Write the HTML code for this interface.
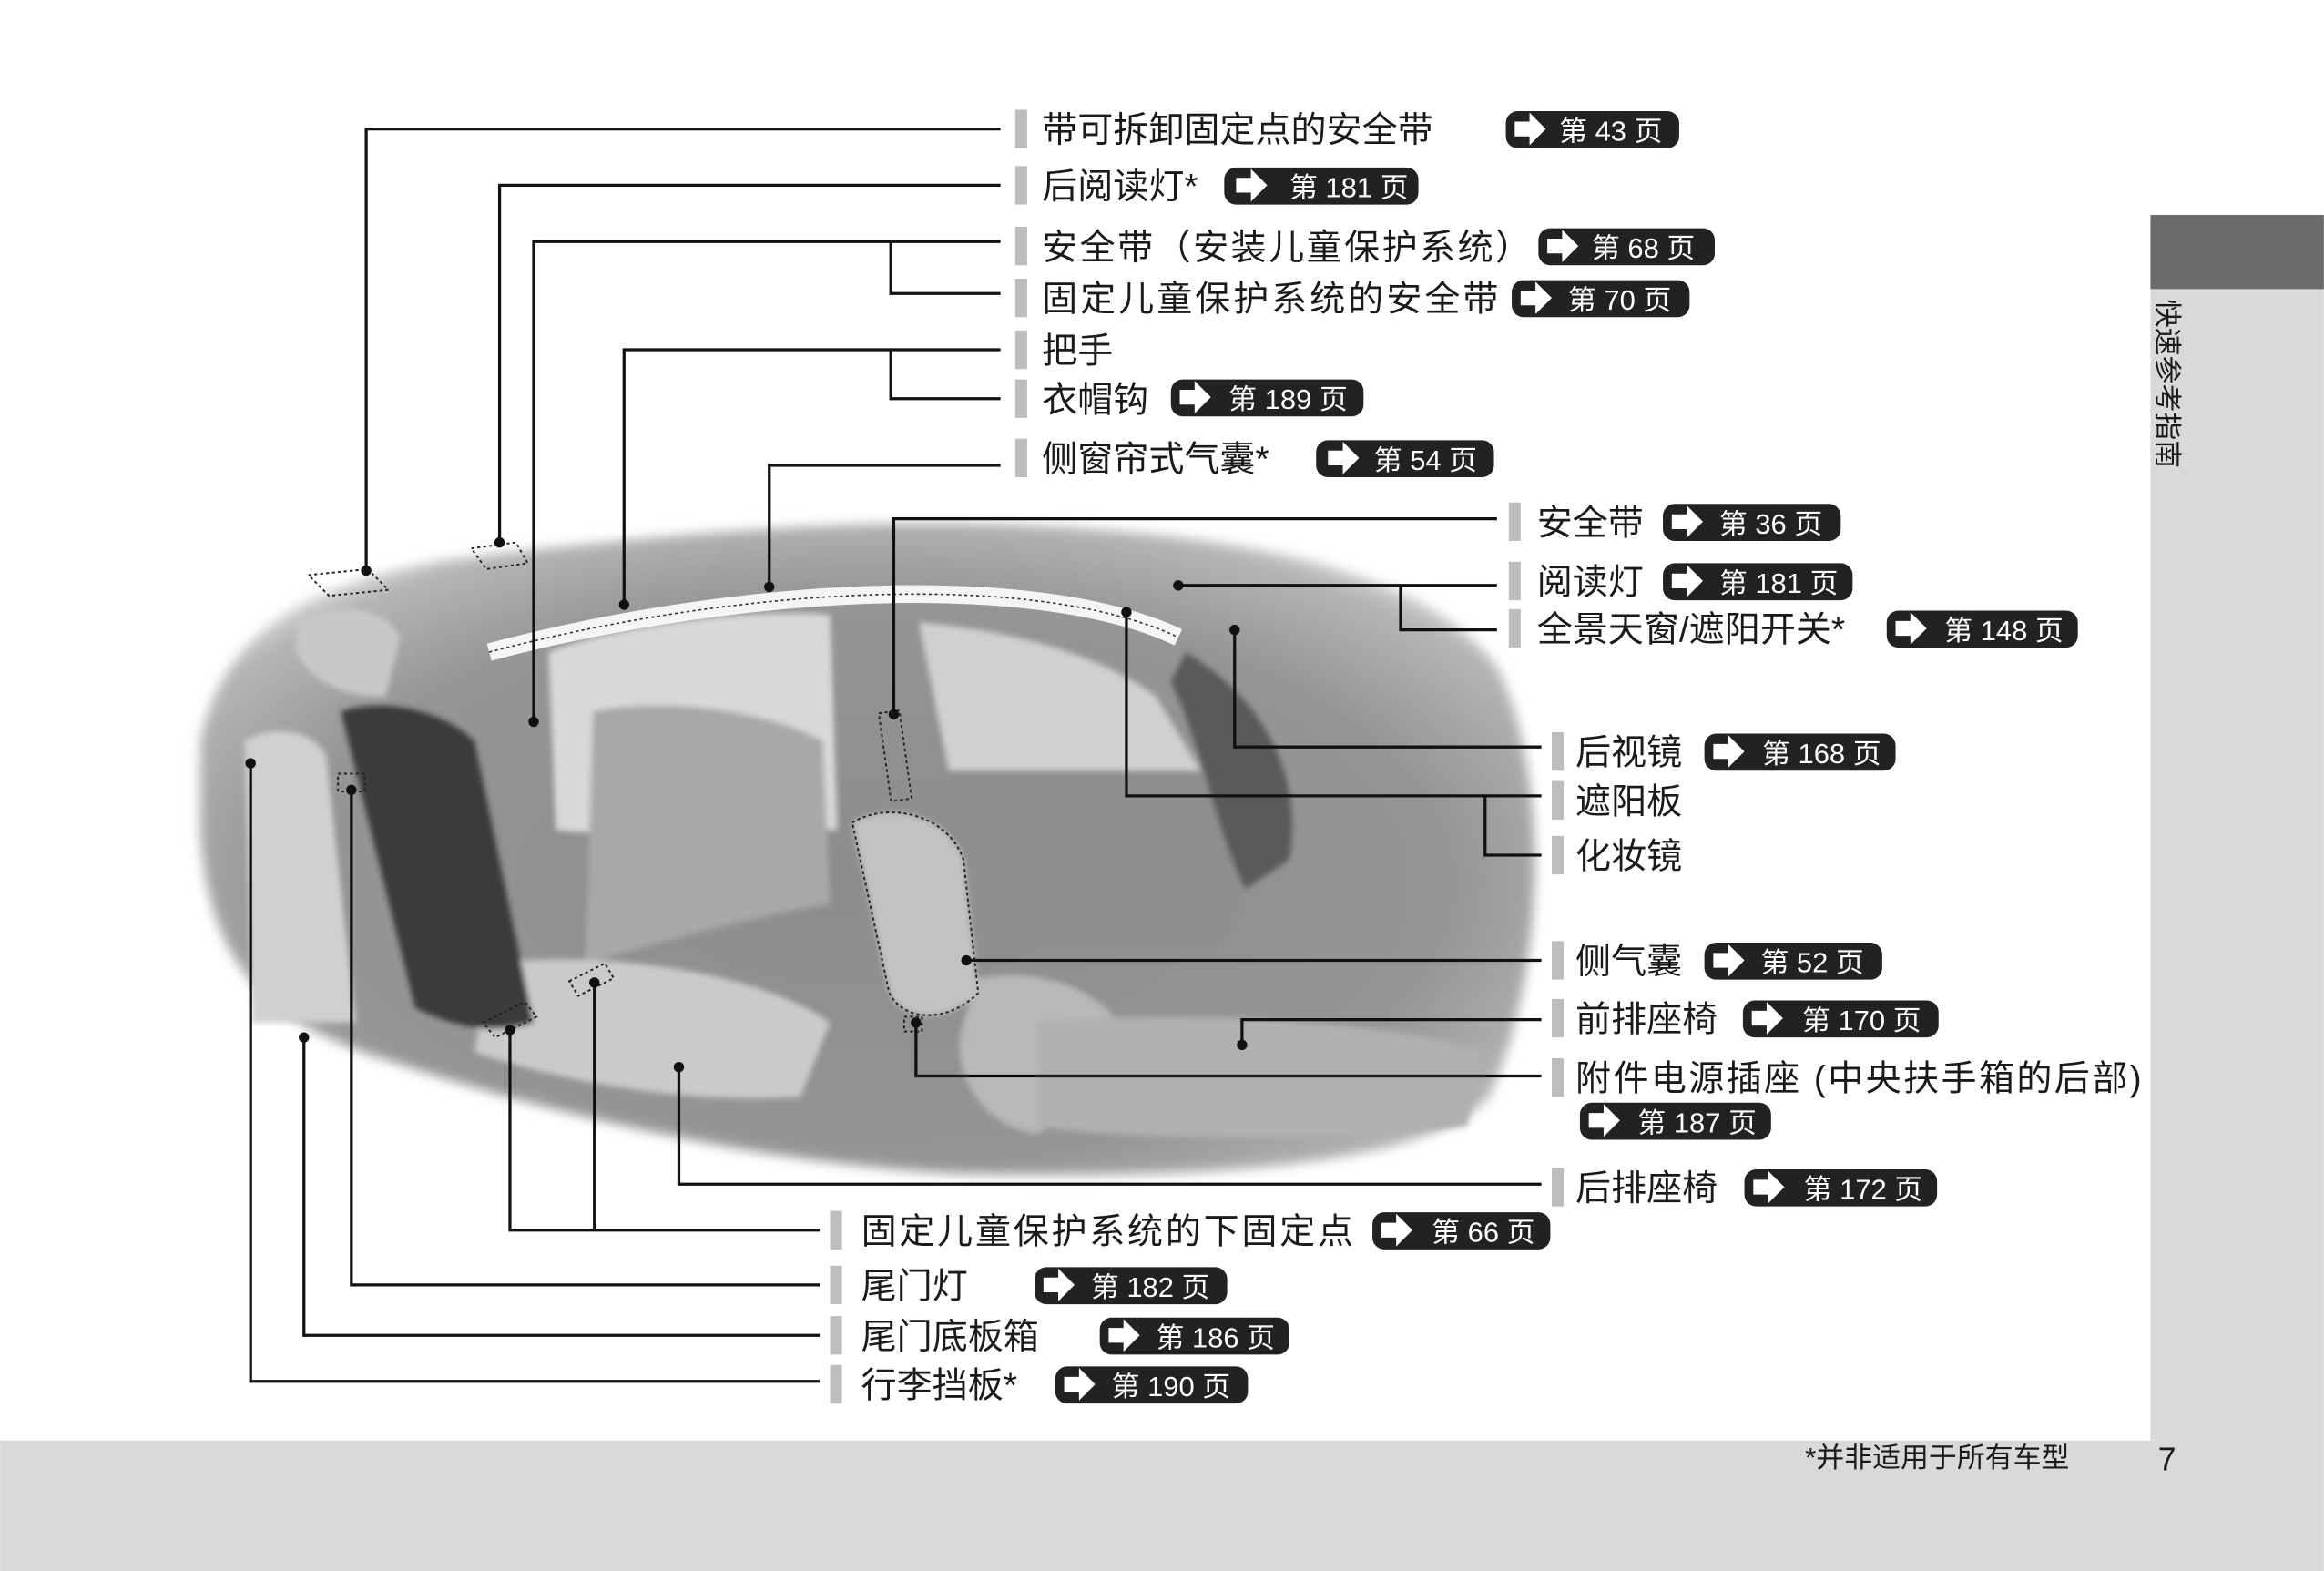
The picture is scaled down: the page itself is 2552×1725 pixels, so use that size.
<!DOCTYPE html>
<html><head><meta charset="utf-8"><style>
html,body{margin:0;padding:0;background:#fff;}
svg{display:block;}
text{font-family:"Liberation Sans","Noto Sans CJK SC",sans-serif;}
.l{font-size:24px;fill:#1a1a1a;}
.b{font-size:19px;fill:#fff;}
</style></head><body>
<svg width="2552" height="1725" viewBox="0 0 1568 1060" xmlns="http://www.w3.org/2000/svg">
<defs>
<radialGradient id="cg" cx="0.5" cy="0.55" r="0.62">
<stop offset="0" stop-color="#8c8c8c"/><stop offset="0.7" stop-color="#959595"/><stop offset="0.92" stop-color="#b5b5b5"/><stop offset="1" stop-color="#e5e5e5"/>
</radialGradient>
<filter id="bl"><feGaussianBlur stdDeviation="4"/></filter>
<filter id="b2"><feGaussianBlur stdDeviation="2"/></filter>
<g id="ar"><path d="M0,-5 h10 v-6 l11,11 l-11,11 v-6 h-10 z" fill="#fff"/></g>
</defs>
<rect x="0" y="972" width="1568" height="88" fill="#d9d9d9"/>
<rect x="1451" y="145" width="117" height="827" fill="#d9d9d9"/>
<rect x="1451" y="145" width="117" height="50" fill="#6b6b6b"/>
<text transform="translate(1456,202) rotate(90)" font-size="19" fill="#1a1a1a">快速参考指南</text>
<text x="1218" y="990" font-size="19" fill="#1a1a1a">*并非适用于所有车型</text>
<text x="1456" y="992" font-size="22" fill="#1a1a1a">7</text>

<!-- car -->
<path d="M135,500 C150,430 200,395 300,378 C450,360 600,345 750,358 C880,368 970,395 1010,450 C1045,520 1045,650 1005,740 C960,790 800,795 650,792 C500,785 350,745 260,715 C180,690 140,650 135,560 Z" fill="url(#cg)" filter="url(#bl)"/>
<g filter="url(#b2)">
<path d="M200,420 C230,405 260,410 270,430 L260,470 C230,470 210,460 200,440 Z" fill="#c8c8c8"/>
<path d="M370,440 C420,420 520,410 560,415 L565,560 C500,560 420,565 375,560 Z" fill="#d8d8d8"/>
<path d="M620,420 C680,425 740,440 780,470 L810,520 L640,520 Z" fill="#d0d0d0"/>
<path d="M400,480 C450,470 520,480 555,500 L560,610 C500,620 430,640 395,650 Z" fill="#a8a8a8"/>
<path d="M640,520 L810,520 C840,560 850,620 820,640 L660,640 Z" fill="#8f8f8f"/>
<path d="M330,650 C420,640 520,660 560,690 L540,740 C460,745 380,730 320,710 Z" fill="#cacaca"/>
<path d="M575,555 C600,540 640,550 650,580 L660,670 C640,690 610,690 600,670 Z" fill="#c2c2c2"/>
<path d="M660,660 C720,650 760,680 770,720 L700,765 C660,760 640,720 650,690 Z" fill="#b8b8b8"/>
<path d="M700,690 C800,680 950,690 1000,710 L990,760 C900,770 760,770 700,760 Z" fill="#b0b0b0"/>
<path d="M230,480 C260,470 300,480 320,500 L360,690 C330,700 300,690 280,680 Z" fill="#3a3a3a"/>
<path d="M165,500 C180,490 210,490 220,510 L240,690 L170,690 Z" fill="#d0d0d0"/>
<path d="M800,440 C850,470 880,520 870,580 L840,600 C820,560 810,500 790,460 Z" fill="#5a5a5a"/>
</g>
<path d="M330,440 C500,395 700,385 795,430" fill="none" stroke="#fff" stroke-width="12" opacity="0.9"/>
<path d="M330,440 C500,395 700,385 795,430" fill="none" stroke="#333" stroke-width="1" stroke-dasharray="2,2"/>
<g fill="none" stroke="#222" stroke-width="1.2" stroke-dasharray="2,2">
<path d="M575,555 C600,540 640,550 650,580 L660,670 C640,690 610,690 600,670 Z"/>
<rect x="597" y="480" width="14" height="60" transform="rotate(-8 604 510)"/>
<path d="M208,388 l40,-4 l14,14 l-40,4 z"/>
<path d="M318,370 l30,-4 l8,14 l-28,4 z"/>
<path d="M326,690 l28,-14 l8,10 l-28,14 z"/>
<path d="M384,662 l24,-12 l6,10 l-24,12 z"/>
<rect x="228" y="522" width="18" height="12"/>
<rect x="610" y="686" width="12" height="10"/>
</g>

<!-- lines -->
<g stroke="#111" stroke-width="2" fill="none">
<path d="M675,87H247V385"/>
<path d="M675,125H337V366"/>
<path d="M675,163H360V487M601,163V198H675"/>
<path d="M675,236H421V408M601,236V269H675"/>
<path d="M675,314H519V396"/>
<path d="M1010,350H603V482"/>
<path d="M795,395H1010M945,395V425H1010"/>
<path d="M1040,504H833V425"/>
<path d="M760,413V537H1040M1002,537V577H1040"/>
<path d="M652,648H1040"/>
<path d="M838,705V688H1040"/>
<path d="M618,690V726H1040"/>
<path d="M458,720V799H1040"/>
<path d="M344,695V830H553M401,663V830"/>
<path d="M237,533V867H553"/>
<path d="M205,700V901H553"/>
<path d="M169,515V932H553"/>
</g>
<g fill="#111">
<circle cx="247" cy="385" r="3.5"/><circle cx="337" cy="366" r="3.5"/><circle cx="360" cy="487" r="3.5"/><circle cx="421" cy="408" r="3.5"/><circle cx="519" cy="396" r="3.5"/><circle cx="603" cy="482" r="3.5"/><circle cx="795" cy="395" r="3.5"/><circle cx="833" cy="425" r="3.5"/><circle cx="760" cy="413" r="3.5"/><circle cx="652" cy="648" r="3.5"/><circle cx="838" cy="705" r="3.5"/><circle cx="618" cy="690" r="3.5"/><circle cx="458" cy="720" r="3.5"/><circle cx="344" cy="695" r="3.5"/><circle cx="401" cy="663" r="3.5"/><circle cx="237" cy="533" r="3.5"/><circle cx="205" cy="700" r="3.5"/><circle cx="169" cy="515" r="3.5"/>
</g>

<!-- label bars -->
<g fill="#bdbdbd">
<rect x="685" y="74" width="8" height="26"/><rect x="685" y="112" width="8" height="26"/><rect x="685" y="153" width="8" height="26"/><rect x="685" y="188" width="8" height="26"/><rect x="685" y="223" width="8" height="26"/><rect x="685" y="256" width="8" height="26"/><rect x="685" y="296" width="8" height="26"/>
<rect x="1018" y="339" width="8" height="26"/><rect x="1018" y="379" width="8" height="26"/><rect x="1018" y="411" width="8" height="26"/>
<rect x="1047" y="494" width="8" height="26"/><rect x="1047" y="527" width="8" height="26"/><rect x="1047" y="564" width="8" height="26"/><rect x="1047" y="635" width="8" height="26"/><rect x="1047" y="674" width="8" height="26"/><rect x="1047" y="714" width="8" height="26"/><rect x="1047" y="788" width="8" height="26"/>
<rect x="560" y="817" width="8" height="26"/><rect x="560" y="854" width="8" height="26"/><rect x="560" y="888" width="8" height="26"/><rect x="560" y="921" width="8" height="26"/>
</g>
<g class="l">
<text x="703" y="96" class="l">带可拆卸固定点的安全带</text>
<text x="703" y="134" class="l">后阅读灯*</text>
<text x="703" y="175" class="l" textLength="330">安全带（安装儿童保护系统）</text>
<text x="703" y="210" class="l" textLength="308">固定儿童保护系统的安全带</text>
<text x="703" y="245" class="l">把手</text>
<text x="703" y="278" class="l">衣帽钩</text>
<text x="703" y="318" class="l">侧窗帘式气囊*</text>
<text x="1037" y="361" class="l">安全带</text>
<text x="1037" y="401" class="l">阅读灯</text>
<text x="1037" y="433" class="l">全景天窗/遮阳开关*</text>
<text x="1063" y="516" class="l">后视镜</text>
<text x="1063" y="549" class="l">遮阳板</text>
<text x="1063" y="586" class="l">化妆镜</text>
<text x="1063" y="657" class="l">侧气囊</text>
<text x="1063" y="696" class="l">前排座椅</text>
<text x="1063" y="736" class="l" textLength="382">附件电源插座 (中央扶手箱的后部)</text>
<text x="1063" y="810" class="l">后排座椅</text>
<text x="581" y="839" class="l" textLength="332">固定儿童保护系统的下固定点</text>
<text x="581" y="876" class="l">尾门灯</text>
<text x="581" y="910" class="l">尾门底板箱</text>
<text x="581" y="943" class="l">行李挡板*</text>
</g>
<!-- badges -->
<g>
<g transform="translate(1016,75)"><rect width="117" height="25" rx="8" fill="#222"/><use href="#ar" x="6" y="12"/><text x="36" y="20" class="b">第 43 页</text></g>
<g transform="translate(826,113)"><rect width="131" height="25" rx="8" fill="#222"/><use href="#ar" x="8" y="12"/><text x="44" y="20" class="b">第 181 页</text></g>
<g transform="translate(1038,154)"><rect width="119" height="25" rx="8" fill="#222"/><use href="#ar" x="6" y="12"/><text x="36" y="20" class="b">第 68 页</text></g>
<g transform="translate(1020,189)"><rect width="120" height="25" rx="8" fill="#222"/><use href="#ar" x="6" y="12"/><text x="38" y="20" class="b">第 70 页</text></g>
<g transform="translate(790,256)"><rect width="130" height="25" rx="8" fill="#222"/><use href="#ar" x="6" y="12"/><text x="39" y="20" class="b">第 189 页</text></g>
<g transform="translate(888,297)"><rect width="120" height="25" rx="8" fill="#222"/><use href="#ar" x="8" y="12"/><text x="39" y="20" class="b">第 54 页</text></g>
<g transform="translate(1122,340)"><rect width="120" height="25" rx="8" fill="#222"/><use href="#ar" x="6" y="12"/><text x="38" y="20" class="b">第 36 页</text></g>
<g transform="translate(1122,380)"><rect width="128" height="25" rx="8" fill="#222"/><use href="#ar" x="6" y="12"/><text x="38" y="20" class="b">第 181 页</text></g>
<g transform="translate(1273,412)"><rect width="129" height="25" rx="8" fill="#222"/><use href="#ar" x="6" y="12"/><text x="39" y="20" class="b">第 148 页</text></g>
<g transform="translate(1150,495)"><rect width="129" height="25" rx="8" fill="#222"/><use href="#ar" x="6" y="12"/><text x="39" y="20" class="b">第 168 页</text></g>
<g transform="translate(1150,636)"><rect width="120" height="25" rx="8" fill="#222"/><use href="#ar" x="6" y="12"/><text x="38" y="20" class="b">第 52 页</text></g>
<g transform="translate(1176,675)"><rect width="132" height="25" rx="8" fill="#222"/><use href="#ar" x="6" y="12"/><text x="40" y="20" class="b">第 170 页</text></g>
<g transform="translate(1066,744)"><rect width="129" height="25" rx="8" fill="#222"/><use href="#ar" x="6" y="12"/><text x="39" y="20" class="b">第 187 页</text></g>
<g transform="translate(1177,789)"><rect width="130" height="25" rx="8" fill="#222"/><use href="#ar" x="6" y="12"/><text x="40" y="20" class="b">第 172 页</text></g>
<g transform="translate(926,818)"><rect width="120" height="25" rx="8" fill="#222"/><use href="#ar" x="6" y="12"/><text x="40" y="20" class="b">第 66 页</text></g>
<g transform="translate(698,855)"><rect width="130" height="25" rx="8" fill="#222"/><use href="#ar" x="6" y="12"/><text x="38" y="20" class="b">第 182 页</text></g>
<g transform="translate(742,889)"><rect width="128" height="25" rx="8" fill="#222"/><use href="#ar" x="6" y="12"/><text x="38" y="20" class="b">第 186 页</text></g>
<g transform="translate(712,922)"><rect width="130" height="25" rx="8" fill="#222"/><use href="#ar" x="6" y="12"/><text x="38" y="20" class="b">第 190 页</text></g>
</g>
</svg>
</body></html>
